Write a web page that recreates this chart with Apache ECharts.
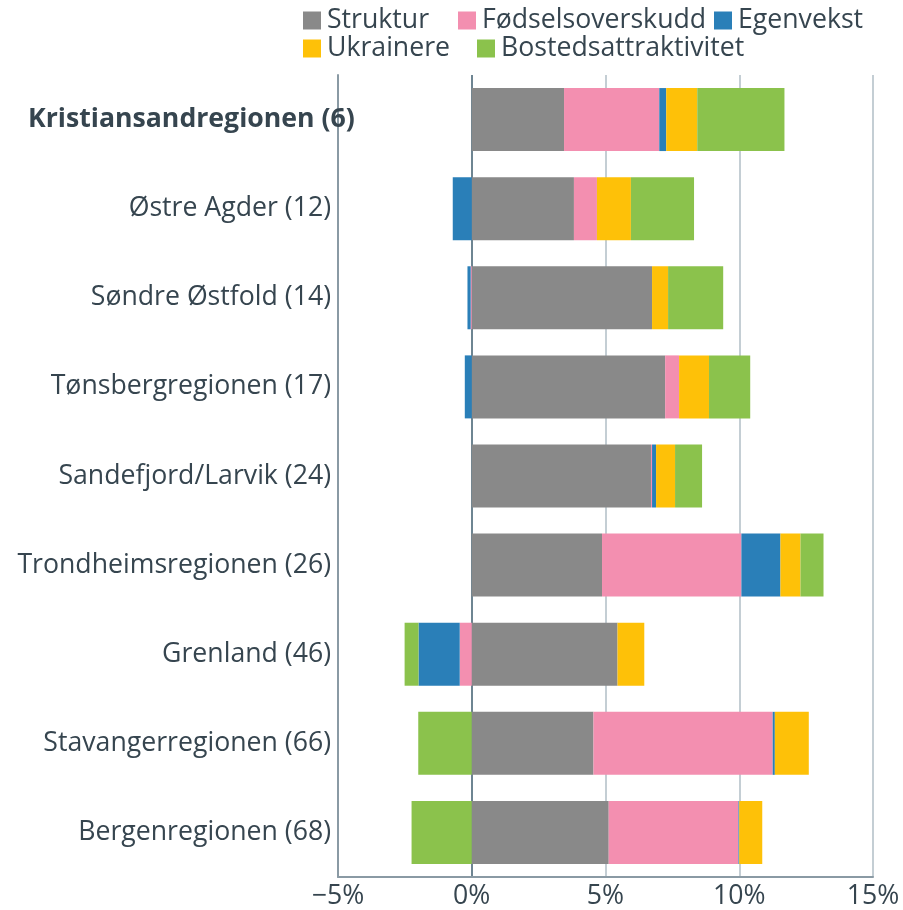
<!DOCTYPE html>
<html>
<head>
<meta charset="utf-8">
<script src="https://cdn.jsdelivr.net/npm/echarts@6/dist/echarts.min.js"></script>
<style>
  html, body { margin: 0; padding: 0; background: #fff; }
  #chart { width: 903px; height: 910px; }
</style>
</head>
<body>
<div id="chart"></div>
<script>
const regions = [
  'Kristiansandregionen (6)',
  'Østre Agder (12)',
  'Søndre Østfold (14)',
  'Tønsbergregionen (17)',
  'Sandefjord/Larvik (24)',
  'Trondheimsregionen (26)',
  'Grenland (46)',
  'Stavangerregionen (66)',
  'Bergenregionen (68)'
];
const struktur = [3.45, 3.82, 6.74, 7.23, 6.70, 4.87, 5.45, 4.55, 5.12];
const fodselsoverskudd = [3.56, 0.86, -0.04, 0.52, 0.04, 5.21, -0.45, 6.70, 4.85];
const egenvekst = [0.26, -0.71, -0.12, -0.26, 0.15, 1.46, -1.54, 0.08, 0.03];
const ukrainere = [1.16, 1.27, 0.60, 1.12, 0.71, 0.75, 1.00, 1.27, 0.86];
const bostedsattraktivitet = [3.26, 2.36, 2.06, 1.54, 1.01, 0.86, -0.52, -2.00, -2.25];

const textColor = '#36454f';
const font = '"Open Sans", sans-serif';
const fs = 26.67;

const chart = echarts.init(document.getElementById('chart'));

const mkSeries = (name, data, color) => ({
  name: name,
  type: 'bar',
  stack: 'total',
  barWidth: 63,
  itemStyle: { color: color },
  emphasis: { disabled: true },
  data: data
});

// one legend per item so each can sit where it does in the original
const mkLegend = (name, left, top) => ({
  data: [name],
  left: left,
  top: top,
  icon: 'rect',
  itemWidth: 18,
  itemHeight: 18,
  padding: 0,
  textStyle: { fontSize: fs, color: textColor, fontFamily: font, padding: [0, 0, 0, 1] }
});

chart.setOption({
  animation: false,
  textStyle: { fontFamily: font },
  legend: [
    mkLegend('Struktur', 303, 7),
    mkLegend('Fødselsoverskudd', 458, 7),
    mkLegend('Egenvekst', 714, 7),
    mkLegend('Ukrainere', 303, 35),
    mkLegend('Bostedsattraktivitet', 477, 35)
  ],
  grid: { left: 338, right: 30, top: 75, bottom: 33, containLabel: false },
  xAxis: {
    type: 'value',
    min: -5,
    max: 15,
    interval: 5,
    axisLine: { show: true, lineStyle: { color: '#8a9aa4', width: 2 } },
    axisTick: { show: false },
    axisLabel: {
      fontSize: fs,
      color: textColor,
      margin: 6,
      formatter: v => (v < 0 ? '\u2212' : '') + Math.abs(v) + '%'
    },
    splitLine: {
      show: true,
      lineStyle: { color: ['#8a9aa4', '#6e8592', '#c4ced4', '#c4ced4', '#c4ced4'], width: 2 }
    }
  },
  yAxis: {
    type: 'category',
    inverse: true,
    data: regions,
    axisLine: { show: true, onZero: false, lineStyle: { color: '#8a9aa4', width: 2 } },
    axisTick: { show: false },
    axisLabel: {
      fontSize: fs,
      color: textColor,
      margin: 7,
      formatter: (v, i) => i === 0 ? '{b|' + v + '}' : v,
      rich: {
        b: {
          fontSize: fs, fontWeight: 'bold', color: textColor, fontFamily: font,
          width: 303, align: 'left', overflow: 'none'
        }
      }
    }
  },
  series: [
    mkSeries('Struktur', struktur, '#898989'),
    mkSeries('Fødselsoverskudd', fodselsoverskudd, '#f38fb0'),
    mkSeries('Egenvekst', egenvekst, '#2a7fb8'),
    mkSeries('Ukrainere', ukrainere, '#fec108'),
    mkSeries('Bostedsattraktivitet', bostedsattraktivitet, '#8bc24c')
  ]
});
</script>
</body>
</html>
